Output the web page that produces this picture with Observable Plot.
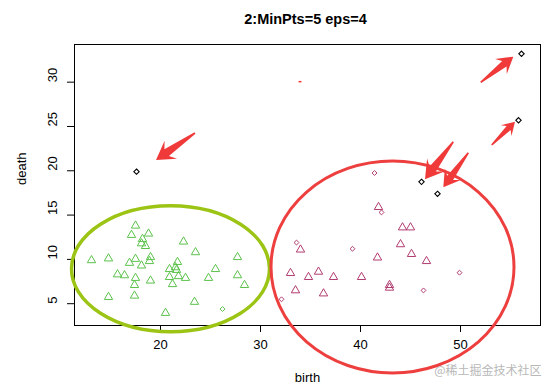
<!DOCTYPE html>
<html><head><meta charset="utf-8">
<script src="https://cdn.jsdelivr.net/npm/d3@7"></script>
<script src="https://cdn.jsdelivr.net/npm/@observablehq/plot@0.6"></script>
<style>html,body{margin:0;padding:0;background:#fff}</style>
</head><body><div id="chart"></div>
<script>
const title = "2:MinPts=5 eps=4";
const xLabel = "birth";
const yLabel = "death";
const watermark = "@稀土掘金技术社区";
const xTicks = [20, 30, 40, 50];
const yTicks = [5, 10, 15, 20, 25, 30];

// cluster 1 (green) – core points (triangles)
const green_birth = [17.5,17.1,18.8,18.2,18.1,18.5,22.3,23.5,13.1,14.8,17.5,16.9,19.0,18.9,18.1,21.7,21.5,20.9,21.6,25.5,27.7,15.7,16.4,17.5,19.0,20.9,21.8,22.5,24.8,27.7,28.4,21.2,17.4,14.8,17.4,23.4,20.5];
const green_death = [13.8,12.75,12.9,12.3,11.8,11.5,12.0,10.8,9.9,10.1,10.05,9.6,10.25,9.8,9.3,9.7,9.1,8.9,8.8,8.9,10.25,8.3,8.2,7.9,7.6,8.0,8.1,7.9,7.9,8.2,7.1,7.2,7.1,5.75,5.9,5.2,3.95];
// cluster 1 (green) – border points (diamonds)
const greenBorder_birth = [26.2];
const greenBorder_death = [4.4];

// cluster 2 (purple) – core points (triangles)
const purple_birth = [41.8,44.2,45.0,34.0,44.0,45.1,41.7,46.6,33.0,34.8,35.8,37.3,40.1,42.9,42.9,33.5,36.3];
const purple_death = [15.9,13.6,13.6,11.1,11.7,10.6,10.2,9.8,8.45,8.0,8.6,8.0,8.0,7.1,6.8,6.5,6.15];
// cluster 2 (purple) – border points (diamonds)
const purpleBorder_birth = [41.4,42.1,33.6,39.2,49.9,46.3,32.1];
const purpleBorder_death = [19.75,15.3,11.9,11.2,8.5,6.5,5.5];

// noise (black diamonds)
const noise_birth = [17.6,46.1,47.7,55.8,56.1];
const noise_death = [19.9,18.75,17.4,25.7,33.2];

// hand-drawn annotations, in data units
const ellipse_cx = [21.05, 43.25];
const ellipse_cy = [8.89, 9.09];
const ellipse_rx = [9.9, 12.15];
const ellipse_ry = [7.11, 11.96];
const arrow_tailX = [23.5, 52.07, 53.17, 49.33, 50.83];
const arrow_tailY = [24.21, 29.93, 22.85, 23.23, 21.98];
const arrow_tipX = [19.6, 55.33, 55.5, 46.5, 48.33];
const arrow_tipY = [21.16, 32.82, 25.48, 18.98, 18.08];

const zip = (a, b) => a.map((v, i) => ({birth: v, death: b[i]}));
const green = zip(green_birth, green_death);
const greenBorder = zip(greenBorder_birth, greenBorder_death);
const purple = zip(purple_birth, purple_death);
const purpleBorder = zip(purpleBorder_birth, purpleBorder_death);
const noise = zip(noise_birth, noise_death);

const GREEN = "#5cc24c", PURPLE = "#b23c70";

function annotations(index, scales) {
  const {x, y} = scales;
  const g = d3.create("svg:g");
  const ellColors = ["#9cc414", "#ee3f3f"];
  const ellWidths = [3.5, 3];
  ellipse_cx.forEach((cx, i) => {
    g.append("ellipse")
      .attr("cx", x(cx)).attr("cy", y(ellipse_cy[i]))
      .attr("rx", Math.abs(x(cx + ellipse_rx[i]) - x(cx)))
      .attr("ry", Math.abs(y(ellipse_cy[i] + ellipse_ry[i]) - y(ellipse_cy[i])))
      .attr("fill", "none").attr("stroke", ellColors[i]).attr("stroke-width", ellWidths[i]);
  });
  arrow_tailX.forEach((tx, i) => {
    const x0 = x(tx), y0 = y(arrow_tailY[i]), x1 = x(arrow_tipX[i]), y1 = y(arrow_tipY[i]);
    const dx = x1 - x0, dy = y1 - y0, L = Math.hypot(dx, dy);
    const ux = dx / L, uy = dy / L, nx = -uy, ny = ux;
    const Lh = 0.38 * L, wh = 0.23 * L, ws = 0.085 * L, wt = 0.8;
    const pt = (u, v) => [x1 - ux * u + nx * v, y1 - uy * u + ny * v];
    const pts = [pt(0, 0), pt(Lh, wh), pt(Lh * 0.72, ws), pt(L, wt), pt(L, -wt), pt(Lh * 0.72, -ws), pt(Lh, -wh)];
    g.append("path").attr("d", "M" + pts.map(p => p.join(",")).join("L") + "Z").attr("fill", "#f03a3a");
  });
  // small red stray mark
  g.append("line").attr("x1", x(33.85)).attr("x2", x(34.15)).attr("y1", y(30)).attr("y2", y(30))
    .attr("stroke", "#f03a3a").attr("stroke-width", 1.5);
  return g.node();
}

const font = "'Liberation Sans', Arial, sans-serif";
const chart = Plot.plot({
  width: 550,
  height: 388,
  marginLeft: 74,
  marginRight: 10,
  marginTop: 44,
  marginBottom: 63,
  style: {fontFamily: font, fontSize: "12px", background: "#fff", color: "#000"},
  x: {domain: [11.4, 58], axis: null},
  y: {domain: [2.54, 34.25], axis: null},
  marks: [
    Plot.frame({stroke: "#000", strokeWidth: 1}),
    Plot.axisX({ticks: xTicks, tickSize: 7, tickFormat: () => "", label: null, stroke: "#000"}),
    Plot.axisY({ticks: yTicks, tickSize: 7, tickFormat: () => "", label: null, stroke: "#000"}),
    Plot.text(xTicks, {x: d => d, frameAnchor: "bottom", dy: 23, text: d => String(d), fontSize: 13, fill: "#000"}),
    Plot.text(yTicks, {y: d => d, frameAnchor: "left", dx: -22, rotate: -90, text: d => String(d), fontSize: 13, fill: "#000"}),
    Plot.text([xLabel], {frameAnchor: "bottom", dy: 56, text: d => d, fontSize: 13, fill: "#000"}),
    Plot.text([yLabel], {frameAnchor: "left", dx: -53, rotate: -90, text: d => d, fontSize: 13, fill: "#000"}),
    Plot.text([title], {frameAnchor: "top", dy: -31, dx: -2, text: d => d, fontSize: 14.5, fontWeight: "bold", fill: "#000"}),
    Plot.dot(green, {x: "birth", y: "death", symbol: "triangle", r: 3.1, stroke: GREEN, strokeWidth: 1}),
    Plot.dot(greenBorder, {x: "birth", y: "death", symbol: "diamond2", r: 2.2, stroke: GREEN, strokeWidth: 1}),
    Plot.dot(purple, {x: "birth", y: "death", symbol: "triangle", r: 3.1, stroke: PURPLE, strokeWidth: 1}),
    Plot.dot(purpleBorder, {x: "birth", y: "death", symbol: "diamond2", r: 2.2, stroke: PURPLE, strokeWidth: 1}),
    Plot.dot(noise, {x: "birth", y: "death", symbol: "diamond2", r: 2.4, stroke: "#000", strokeWidth: 1.1}),
    annotations,
    Plot.text([watermark], {frameAnchor: "bottom-right", dx: 1, dy: 49, textAnchor: "end", text: d => d, fontSize: 12, fill: "#b8b8b8", fontFamily: "'Noto Sans CJK SC', sans-serif"})
  ]
});
document.getElementById("chart").appendChild(chart);
</script>
</body></html>
